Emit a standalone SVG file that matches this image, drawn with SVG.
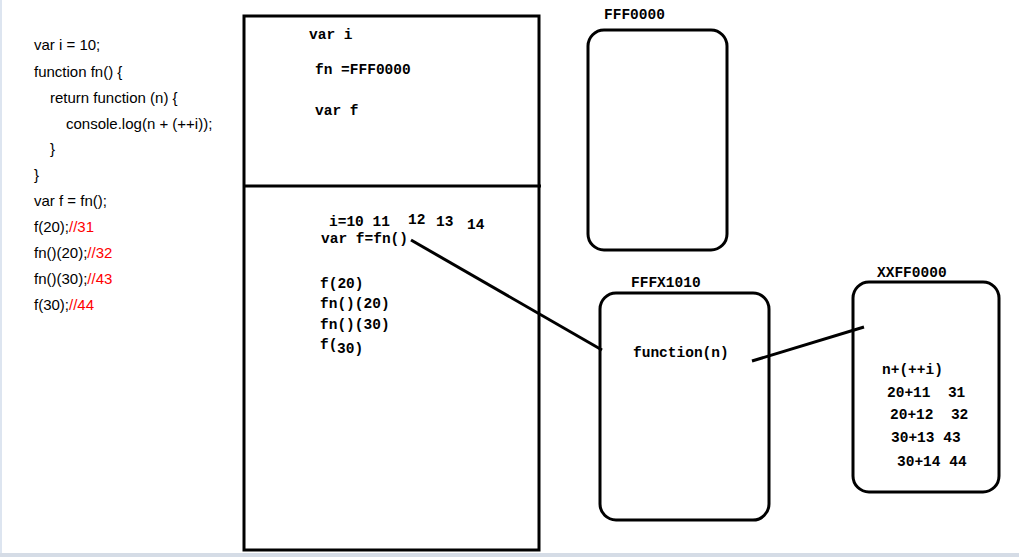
<svg xmlns="http://www.w3.org/2000/svg" width="1019" height="557" viewBox="0 0 1019 557">
<style>
.code{font-family:"Liberation Sans","Noto Sans",sans-serif;font-size:15px;fill:#000}
.red{fill:#ff0000}
.m{font-family:"Liberation Mono","DejaVu Sans Mono",monospace;font-size:14.5px;font-weight:bold;fill:#000;white-space:pre}
.box{fill:none;stroke:#000;stroke-width:3}
.conn{stroke:#000;stroke-width:3;fill:none}
</style>
<rect x="0" y="0" width="1019" height="557" fill="#fff"/>
<rect x="0" y="0" width="2" height="557" fill="#dde5f0"/>
<rect x="0" y="553" width="1019" height="4" fill="#d5dce6"/>
<g id="code">
<text class="code" x="34" y="50">var i = 10;</text>
<text class="code" x="34" y="77">function fn() {</text>
<text class="code" x="50" y="103">return function (n) {</text>
<text class="code" x="66" y="129">console.log(n + (++i));</text>
<text class="code" x="50" y="154">}</text>
<text class="code" x="34" y="180">}</text>
<text class="code" x="34" y="206">var f = fn();</text>
<text class="code" x="34" y="232">f(20);<tspan class="red">//31</tspan></text>
<text class="code" x="34" y="258">fn()(20);<tspan class="red">//32</tspan></text>
<text class="code" x="34" y="284">fn()(30);<tspan class="red">//43</tspan></text>
<text class="code" x="34" y="310">f(30);<tspan class="red">//44</tspan></text>
</g>
<g id="stack">
<rect class="box" x="244" y="16" width="295" height="534"/>
<line class="conn" x1="243" y1="186" x2="541" y2="186"/>
<text class="m" x="309" y="39">var i</text>
<text class="m" x="315" y="74">fn =FFF0000</text>
<text class="m" x="315" y="115">var f</text>
<text class="m" x="329" y="226">i=10 11</text>
<text class="m" x="408" y="224">12</text>
<text class="m" x="436" y="226">13</text>
<text class="m" x="467" y="229">14</text>
<text class="m" x="321" y="243">var f=fn()</text>
<text class="m" x="320" y="288">f(20)</text>
<text class="m" x="320" y="308">fn()(20)</text>
<text class="m" x="320" y="329">fn()(30)</text>
<text class="m" x="320" y="349">f(</text>
<text class="m" x="337" y="353">30)</text>
</g>
<g id="fff0000">
<rect class="box" x="588" y="30" width="139" height="220" rx="16"/>
<text class="m" x="604" y="19">FFF0000</text>
</g>
<g id="fffx1010">
<rect class="box" x="600" y="293" width="169" height="227" rx="16"/>
<text class="m" x="631" y="287">FFFX1010</text>
<text class="m" x="633" y="357">function(n)</text>
</g>
<g id="xxff0000">
<rect class="box" x="853" y="282" width="146" height="210" rx="16"/>
<text class="m" x="877" y="277">XXFF0000</text>
<text class="m" x="882" y="374">n+(++i)</text>
<text class="m" x="887" y="397">20+11  31</text>
<text class="m" x="890" y="419">20+12  32</text>
<text class="m" x="891" y="442">30+13 43</text>
<text class="m" x="897" y="466">30+14 44</text>
</g>
<g id="connectors">
<line class="conn" x1="411" y1="240" x2="602" y2="350"/>
<line class="conn" x1="752" y1="361" x2="864" y2="327"/>
</g>
</svg>
